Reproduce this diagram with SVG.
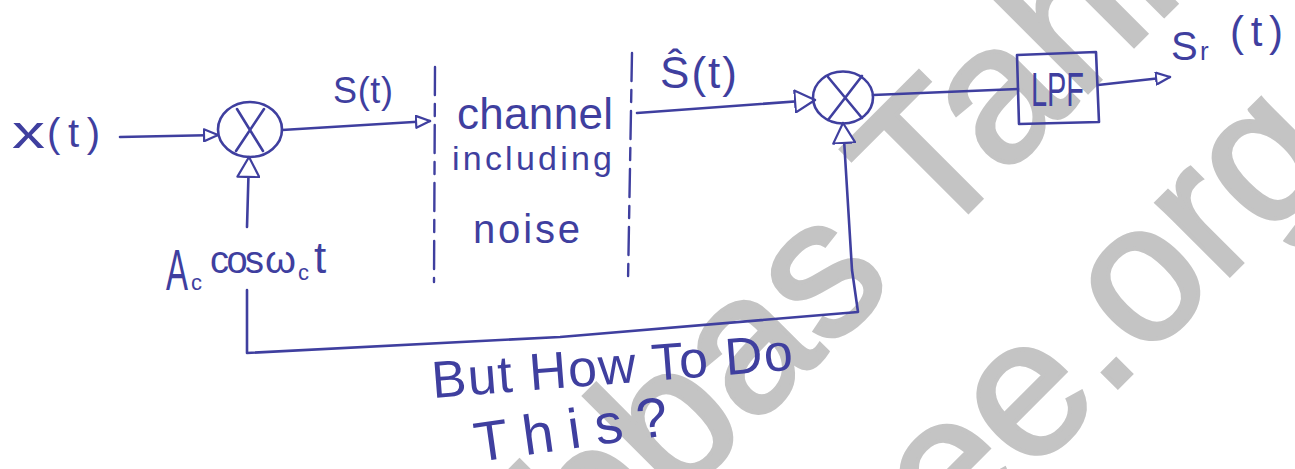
<svg xmlns="http://www.w3.org/2000/svg" width="1295" height="469" viewBox="0 0 1295 469">
<style>
.wm{font-family:"Liberation Sans",Arial,sans-serif;font-size:195px;fill:#c4c4c4;stroke:#c4c4c4;stroke-width:4}
.ink{fill:none;stroke:#3f3f9f;stroke-width:2.6;stroke-linecap:round;stroke-linejoin:round}
.dash{fill:none;stroke:#3f3f9f;stroke-width:2.4;stroke-linecap:round;stroke-dasharray:28 9 12 9}
.t{font-family:"Liberation Sans",Arial,sans-serif;fill:#3f3f9f}
</style>
<defs>
<marker id="ah" viewBox="0 0 16 14" refX="15" refY="7" markerWidth="16" markerHeight="14" markerUnits="userSpaceOnUse" orient="auto">
<path d="M1,1 L15,7 L1,13 Z" fill="#fff" stroke="#3f3f9f" stroke-width="2.2" stroke-linejoin="round"/>
</marker>
<marker id="ahb" viewBox="0 0 22 24" refX="21" refY="12" markerWidth="22" markerHeight="24" markerUnits="userSpaceOnUse" orient="auto">
<path d="M1,1 L21,12 L1,23 Z" fill="#fff" stroke="#3f3f9f" stroke-width="2.2" stroke-linejoin="round"/>
</marker>
</defs>
<rect width="1295" height="469" fill="#fff"/>
<g id="watermark">
<text class="wm" x="506" y="674" transform="rotate(-45 506 674)">Abbas Tahir</text>
<text class="wm" x="952" y="553" transform="rotate(-45 952 553)">ee.org</text>
</g>
<g id="connectors">
<path class="ink" d="M120,137 L218,135" marker-end="url(#ah)"/>
<path class="ink" d="M247,227 L249,157" marker-end="url(#ahb)"/>
<path class="ink" d="M282,130 L430,121" marker-end="url(#ah)"/>
<path class="ink" d="M637,113 L815,100" marker-end="url(#ahb)"/>
<path class="ink" d="M247,290 L247,353 L560,337 L858,312 L852,270 L843,123" marker-end="url(#ahb)"/>
<path class="ink" d="M873,95 L1018,89"/>
<path class="ink" d="M1098,85 L1170,77" marker-end="url(#ah)"/>
</g>
<g id="input-label">
<text class="t" x="12" y="148" font-size="46" textLength="33" lengthAdjust="spacingAndGlyphs">x</text>
<text class="t" x="47" y="147" font-size="40" textLength="53" lengthAdjust="spacing">(t)</text>
</g>
<g id="mixer1">
<ellipse class="ink" cx="250" cy="129.5" rx="32" ry="27.5"/>
<path class="ink" d="M237,109 L263,151 M264,109 L236,151"/>
</g>
<g id="s-label"><text class="t" x="333" y="103" font-size="36" textLength="60" lengthAdjust="spacing">S(t)</text></g>
<g id="carrier-label">
<text class="t" x="166" y="290" font-size="58" textLength="22" lengthAdjust="spacingAndGlyphs">A</text>
<text class="t" x="191" y="290" font-size="22">c</text>
<text class="t" x="210" y="273" font-size="38" textLength="54" lengthAdjust="spacing">cos</text>
<text class="t" x="265" y="273" font-size="38" textLength="31" lengthAdjust="spacingAndGlyphs">ω</text>
<text class="t" x="298" y="280" font-size="22">c</text>
<text class="t" x="314" y="273" font-size="44">t</text>
</g>
<g id="channel">
<path class="dash" d="M435,67 L434,282"/>
<path class="dash" d="M632,53 L628,282"/>
<text class="t" x="457" y="129" font-size="44" textLength="156" lengthAdjust="spacing">channel</text>
<text class="t" x="452" y="170" font-size="34" textLength="160" lengthAdjust="spacing">including</text>
<text class="t" x="473" y="243" font-size="40" textLength="107" lengthAdjust="spacing">noise</text>
</g>
<g id="shat-label"><text class="t" x="660" y="88" font-size="44" textLength="77" lengthAdjust="spacing">Ŝ(t)</text></g>
<g id="mixer2">
<ellipse class="ink" cx="843" cy="97.5" rx="30" ry="26"/>
<path class="ink" d="M828,77 L862,118 M862,76 L828,120"/>
</g>
<g id="lpf">
<path class="ink" d="M1017,55 L1096,52 L1099,122 L1019,124 Z"/>
<text class="t" x="1031" y="106" font-size="48" textLength="53" lengthAdjust="spacingAndGlyphs">LPF</text>
</g>
<g id="output-label">
<text class="t" x="1171" y="60" font-size="40">S</text>
<text class="t" x="1200" y="60" font-size="26">r</text>
<text class="t" x="1230" y="46" font-size="42" textLength="53" lengthAdjust="spacing">(t)</text>
</g>
<g id="question">
<text class="t" x="433" y="398" font-size="52" textLength="362" lengthAdjust="spacing" transform="rotate(-4.5 433 398)">But How To Do</text>
<text class="t" x="477" y="462" font-size="56" textLength="195" lengthAdjust="spacing" transform="rotate(-8 477 462)">This?</text>
</g>
</svg>
